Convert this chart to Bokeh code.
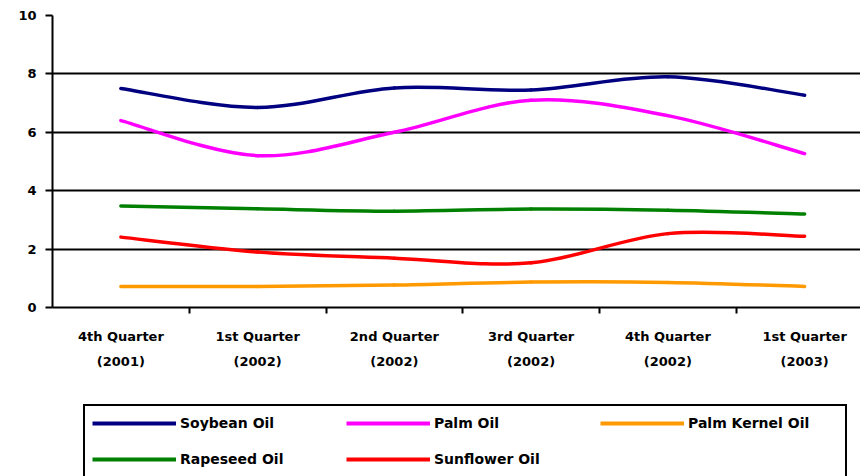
from bokeh.plotting import figure
from bokeh.layouts import column
from bokeh.models import (Range1d, FixedTicker, Legend, LegendItem, Grid)
from bokeh.embed import file_html
from bokeh.resources import INLINE

categories = ["4th Quarter\n(2001)", "1st Quarter\n(2002)", "2nd Quarter\n(2002)",
              "3rd Quarter\n(2002)", "4th Quarter\n(2002)", "1st Quarter\n(2003)"]
soybean = [7.5, 6.85, 7.52, 7.45, 7.9, 7.27]
palm = [6.4, 5.2, 6.0, 7.1, 6.57, 5.27]
palm_kernel = [0.72, 0.72, 0.77, 0.87, 0.86, 0.72]
rapeseed = [3.48, 3.38, 3.3, 3.37, 3.33, 3.2]
sunflower = [2.41, 1.9, 1.69, 1.53, 2.53, 2.44]
y_ticks = [0, 2, 4, 6, 8, 10]

series = [
    ("Soybean Oil", soybean, "#000080"),
    ("Palm Oil", palm, "#FF00FF"),
    ("Palm Kernel Oil", palm_kernel, "#FF9900"),
    ("Rapeseed Oil", rapeseed, "#008000"),
    ("Sunflower Oil", sunflower, "#FF0000"),
]

n = len(categories)
xs = list(range(n))

p = figure(width=860, height=402, output_backend="svg", toolbar_location=None,
           x_range=Range1d(-0.5, -0.5 + 808 / 136.75), y_range=Range1d(0, 10),
           min_border_left=52, min_border_top=15, min_border_right=0, min_border_bottom=95)
p.outline_line_color = None
p.background_fill_color = "white"
p.border_fill_color = "white"

# grid
p.xgrid.visible = False
p.ygrid.ticker = FixedTicker(ticks=[2, 4, 6, 8])
p.ygrid.grid_line_color = "black"
p.ygrid.grid_line_width = 2
p.add_layout(Grid(dimension=1, ticker=FixedTicker(ticks=[10]),
                  grid_line_color="#A0A0A0", grid_line_width=2))

# y axis
p.yaxis.ticker = FixedTicker(ticks=y_ticks)
p.yaxis.axis_line_color = "black"
p.yaxis.axis_line_width = 2
p.yaxis.major_tick_line_width = 2
p.yaxis.major_tick_out = 7
p.yaxis.major_tick_in = 0
p.yaxis.minor_tick_line_color = None
p.yaxis.major_label_standoff = 9
p.yaxis.major_label_text_font = "DejaVu Sans"
p.yaxis.major_label_text_font_style = "bold"
p.yaxis.major_label_text_font_size = "13px"
p.yaxis.major_label_text_color = "black"

# x axis
p.xaxis.ticker = FixedTicker(ticks=xs, minor_ticks=[i + 0.5 for i in range(n - 1)])
p.xaxis.major_label_overrides = {i: c for i, c in enumerate(categories)}
p.xaxis.axis_line_color = "black"
p.xaxis.axis_line_width = 2
p.xaxis.major_tick_out = 0
p.xaxis.major_tick_in = 0
p.xaxis.major_tick_line_color = None
p.xaxis.minor_tick_out = 6
p.xaxis.minor_tick_in = 0
p.xaxis.minor_tick_line_width = 2
p.xaxis.minor_tick_line_color = "black"
p.xaxis.major_label_standoff = 15
p.xaxis.major_label_text_font = "DejaVu Sans"
p.xaxis.major_label_text_font_style = "bold"
p.xaxis.major_label_text_font_size = "13px"
p.xaxis.major_label_text_line_height = 1.73
p.xaxis.major_label_text_color = "black"


def smooth(y):
    # cubic Bezier (Catmull-Rom style) segments through the data points
    x0, y0, x1, y1, cx0, cy0, cx1, cy1 = [], [], [], [], [], [], [], []
    m = len(y)
    for i in range(m - 1):
        im1 = max(i - 1, 0)
        ip2 = min(i + 2, m - 1)
        x0.append(xs[i]); y0.append(y[i]); x1.append(xs[i + 1]); y1.append(y[i + 1])
        cx0.append(xs[i] + (xs[i + 1] - xs[im1]) / 6)
        cy0.append(y[i] + (y[i + 1] - y[im1]) / 6)
        cx1.append(xs[i + 1] - (xs[ip2] - xs[i]) / 6)
        cy1.append(y[i + 1] - (y[ip2] - y[i]) / 6)
    return dict(x0=x0, y0=y0, x1=x1, y1=y1, cx0=cx0, cy0=cy0, cx1=cx1, cy1=cy1)


for name, vals, color in series:
    p.bezier(line_color=color, line_width=3.5, line_cap="round", **smooth(vals))

# legend strip below the chart (its frame is aligned with the chart's frame)
lg = figure(width=860, height=74, output_backend="svg", toolbar_location=None,
            x_range=Range1d(0, 1), y_range=Range1d(100, 101),
            x_axis_type=None, y_axis_type=None,
            min_border_left=0, min_border_right=0, min_border_top=0, min_border_bottom=0)
lg.outline_line_color = None
lg.xgrid.visible = False
lg.ygrid.visible = False
lg.background_fill_color = "white"
lg.border_fill_color = "white"

leg_renderers = {}
for name, vals, color in series:
    # same series, outside this strip's visible range: only the legend keys show
    leg_renderers[name] = lg.line(x=xs, y=vals, line_color=color, line_width=4)

order = ["Soybean Oil", "Palm Oil", "Palm Kernel Oil", "Rapeseed Oil", "Sunflower Oil"]
legend = Legend(items=[LegendItem(label=nm, renderers=[leg_renderers[nm]]) for nm in order],
                orientation="horizontal", nrows=2,
                location=(31, -2), margin=0, padding=7, spacing=16,
                glyph_width=84, glyph_height=20, label_height=20, label_width=150,
                label_standoff=4,
                label_text_font="DejaVu Sans", label_text_font_style="bold",
                label_text_font_size="14px", label_text_color="black",
                border_line_color="black", border_line_width=2, border_line_alpha=1,
                background_fill_color="white", background_fill_alpha=1)
lg.add_layout(legend, "center")

layout = column(p, lg, spacing=0)
open("out.html", "w").write(file_html(layout, INLINE))
